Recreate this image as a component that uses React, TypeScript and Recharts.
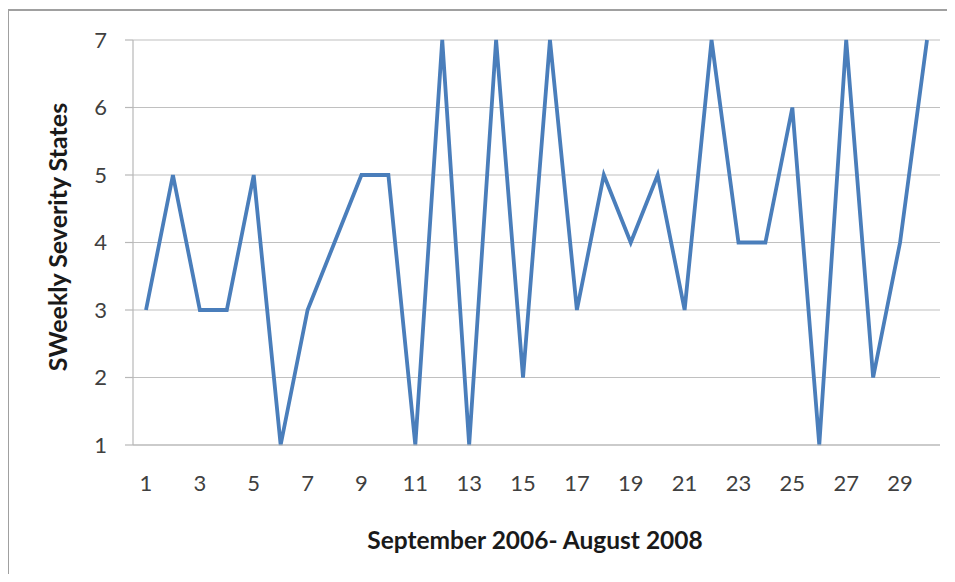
import { LineChart, Line, XAxis, YAxis, CartesianGrid, Label } from "recharts";

// weeks 1..30, weekly severity state (1-7)
const weeks = Array.from({ length: 30 }, (_, i) => String(i + 1));
const severity = [3, 5, 3, 3, 5, 1, 3, 4, 5, 5, 1, 7, 1, 7, 2, 7, 3, 5, 4, 5, 3, 7, 4, 4, 6, 1, 7, 2, 4, 7];
const yTicks = [1, 2, 3, 4, 5, 6, 7];

const data = weeks.map((w, i) => ({ week: w, value: severity[i] }));

const font = "Lato, 'Open Sans', sans-serif";

export default function App() {
  return (
    <div style={{ position: "relative", width: 955, height: 582, margin: -8, overflow: "hidden", background: "#fff" }}>
      <div
        style={{
          position: "absolute",
          left: 7,
          top: 9,
          width: 1200,
          height: 1200,
          border: "2px solid #a0a0a0",
        }}
      />
      <div style={{ position: "absolute", left: 0, top: 0 }}>
        <LineChart width={955} height={582} data={data} margin={{ top: 40, right: 15, bottom: 0, left: 0 }}>
          <CartesianGrid vertical={false} stroke="#c0c0c0" strokeWidth={1.2} />
          <XAxis
            dataKey="week"
            height={137}
            interval={1}
            padding={{ left: 13, right: 13 }}
            tickLine={false}
            axisLine={{ stroke: "#b8b8b8", strokeWidth: 1.2 }}
            tick={{ fill: "#404040", fontSize: 22, fontFamily: font }}
            tickMargin={24}
          >
            <Label
              content={() => (
                <text x={535} y={549} textAnchor="middle" fontFamily={font} fontWeight="bold" fontSize={24.5} fill="#1a1a1a">
                  September 2006- August 2008
                </text>
              )}
            />
          </XAxis>
          <YAxis
            width={133}
            domain={[1, 7]}
            ticks={yTicks}
            interval={0}
            tickSize={8}
            tickMargin={18}
            tickLine={{ stroke: "#b8b8b8", strokeWidth: 1.2 }}
            axisLine={{ stroke: "#b8b8b8", strokeWidth: 1.2 }}
            tick={{ fill: "#404040", fontSize: 22, fontFamily: font }}
          >
            <Label
              content={() => (
                <text
                  x={67}
                  y={237}
                  transform="rotate(-90 67 237)"
                  textAnchor="middle"
                  fontFamily={font}
                  fontWeight="bold"
                  fontSize={25}
                  fill="#1a1a1a"
                >
                  SWeekly Severity States
                </text>
              )}
            />
          </YAxis>
          <Line
            type="linear"
            dataKey="value"
            stroke="#4a7ebb"
            strokeWidth={3.8}
            dot={false}
            isAnimationActive={false}
          />
        </LineChart>
      </div>
    </div>
  );
}
